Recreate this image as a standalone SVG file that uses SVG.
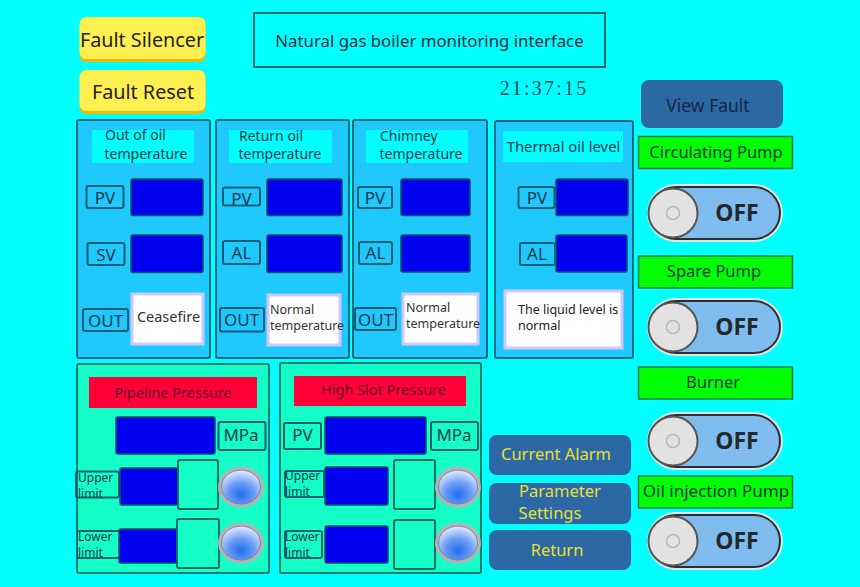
<svg xmlns="http://www.w3.org/2000/svg" width="860" height="587" viewBox="0 0 860 587">
<style>
text{font-family:"Noto Sans","Open Sans","Liberation Sans",sans-serif;fill:#0b3a4a;text-anchor:middle}
.panel{fill:#1fc8ff;stroke:#0b6d80;stroke-width:2}
.gpanel{fill:#14ffc8;stroke:#0b7d70;stroke-width:2}
.val{fill:#0000f0;stroke:#0b5560;stroke-width:1.5}
.lab{fill:none;stroke:#0b5f70;stroke-width:2}
.glab{fill:#14ffc8;stroke:#0b6d60;stroke-width:2}
.head{fill:#00ffff}
.wht{fill:#fff;stroke:#cfc8ff;stroke-width:3}
.red{fill:#ff0038}
.grn{fill:#00ff00;stroke:#0b7d50;stroke-width:1.5}
.nav{fill:#2c67a6}
.yel{fill:#fff04f}
.yels{fill:#f5b800}
.hd{font-size:14px}
.t16{font-size:17px}
.wt{font-size:12.500px;fill:#333;text-anchor:start}
.lim{font-size:12px;text-anchor:start}
.rt{font-size:14.500px;fill:#6a0a28}
.gt{font-size:16.500px;fill:#06383a}
.nt{fill:#e8e030;font-size:16.500px}
</style>
<defs>
<radialGradient id="lampG" cx="50%" cy="72%" r="65%"><stop offset="0" stop-color="#1f6cf0"/><stop offset="0.55" stop-color="#6f9ff5"/><stop offset="1" stop-color="#d0dffc"/></radialGradient>
<g id="toggle">
<rect x="-67" y="-29" width="136" height="58" rx="29" fill="#e4e4e4"/>
<rect x="-64" y="-26" width="130" height="52" rx="26" fill="#80bdee" stroke="#2a2f33" stroke-width="2"/>
<circle cx="-41" cy="0" r="24.500" fill="#e2e2e2" stroke="#555" stroke-width="2"/>
<circle cx="-41" cy="0" r="6.500" fill="none" stroke="#b8b8b8" stroke-width="1.500"/>
<text x="23" y="8" style="font-size:23px;font-weight:700;fill:#22282c">OFF</text>
</g>
<g id="lamp">
<ellipse cx="0" cy="0" rx="23" ry="20.500" fill="#b4b4b4"/>
<ellipse cx="0" cy="0" rx="19.500" ry="17" fill="url(#lampG)" stroke="#6a7a90" stroke-width="0.800"/>
</g>
</defs>
<rect width="860" height="587" fill="#00ffff"/>

<g id="fault-silencer"><rect class="yels" x="79.500" y="18" width="126" height="44" rx="7"/><rect class="yel" x="79.500" y="17" width="126" height="42" rx="7"/><text x="142" y="47" style="font-size:19.800px;fill:#222">Fault Silencer</text></g>
<g id="fault-reset"><rect class="yels" x="79.500" y="71" width="126" height="43" rx="7"/><rect class="yel" x="79.500" y="70" width="126" height="41" rx="7"/><text x="143" y="99" style="font-size:19.800px;fill:#222">Fault Reset</text></g>
<g id="title"><rect x="254" y="13" width="351" height="54" fill="none" stroke="#0b6d70" stroke-width="2"/><text x="429.500" y="47" style="font-size:16.800px;fill:#10303a">Natural gas boiler monitoring interface</text></g>
<g id="clock"><text x="544" y="95" style="font-family:'Liberation Serif',serif;font-size:20px;letter-spacing:2.200px;fill:#1d4a55">21:37:15</text></g>
<g id="view-fault"><rect class="nav" x="641" y="80" width="142" height="48" rx="8"/><text x="708" y="112" style="font-size:17.500px;fill:#14283f">View Fault</text></g>

<g id="out-of-oil">
<rect class="panel" x="77" y="120" width="133" height="238" rx="2"/>
<rect class="head" x="92" y="130" width="102" height="33"/>
<text x="105" y="140" class="hd" style="text-anchor:start">Out of oil</text><text x="146" y="159" class="hd">temperature</text>
<rect class="val" x="131" y="179" width="72" height="36.500" rx="2"/><rect class="val" x="131" y="235" width="72" height="37.500" rx="2"/>
<rect class="lab" x="86.500" y="186" width="37" height="22" rx="2"/><text x="105" y="204" class="t16">PV</text>
<rect class="lab" x="87.500" y="243" width="37" height="22" rx="2"/><text x="106" y="261" class="t16">SV</text>
<rect class="lab" x="83" y="309" width="45" height="22" rx="2"/><text x="105.500" y="327" class="t16">OUT</text>
<rect class="wht" x="132" y="294" width="71" height="50"/><text x="168.500" y="322" style="font-size:14.500px;fill:#333">Ceasefire</text>
</g>
<g id="return-oil">
<rect class="panel" x="216" y="120" width="133" height="238" rx="2"/>
<rect class="head" x="229" y="130" width="103" height="33"/>
<text x="239" y="141" class="hd" style="text-anchor:start">Return oil</text><text x="280" y="159" class="hd">temperature</text>
<rect class="val" x="267" y="179" width="75" height="36.500" rx="2"/><rect class="val" x="267" y="235" width="75" height="37.500" rx="2"/>
<rect class="lab" x="223" y="187.500" width="37" height="18" rx="2"/><text x="241.500" y="205" class="t16">PV</text>
<rect class="lab" x="223" y="241" width="37" height="23" rx="2"/><text x="241.500" y="259" class="t16">AL</text>
<rect class="lab" x="220" y="308" width="44" height="23.500" rx="2"/><text x="241.500" y="326" class="t16">OUT</text>
<rect class="wht" x="268" y="295" width="72" height="50"/><text x="270" y="314" class="wt">Normal</text><text x="270" y="330" class="wt">temperature</text>
</g>
<g id="chimney">
<rect class="panel" x="353" y="120" width="134" height="238" rx="2"/>
<rect class="head" x="366" y="130" width="102" height="33"/>
<text x="380" y="141" class="hd" style="text-anchor:start">Chimney</text><text x="421" y="159" class="hd">temperature</text>
<rect class="val" x="401" y="179" width="69" height="36.500" rx="2"/><rect class="val" x="401" y="235" width="69" height="37" rx="2"/>
<rect class="lab" x="358" y="187" width="34" height="21" rx="2"/><text x="375" y="204" class="t16">PV</text>
<rect class="lab" x="359" y="242" width="33" height="22" rx="2"/><text x="375.500" y="259" class="t16">AL</text>
<rect class="lab" x="355" y="308" width="41" height="22" rx="2"/><text x="375.500" y="326" class="t16">OUT</text>
<rect class="wht" x="403" y="294" width="75" height="50"/><text x="406" y="312" class="wt">Normal</text><text x="406" y="328" class="wt">temperature</text>
</g>
<g id="thermal-oil-level">
<rect class="panel" x="495" y="121" width="138" height="237" rx="2"/>
<rect class="head" x="503" y="131" width="120" height="31"/>
<text x="563.500" y="152" style="font-size:14.800px">Thermal oil level</text>
<rect class="val" x="556" y="179" width="72" height="36.500" rx="2"/><rect class="val" x="556" y="235" width="71" height="37" rx="2"/>
<rect class="lab" x="518.500" y="187" width="36" height="21" rx="2"/><text x="537" y="204" class="t16">PV</text>
<rect class="lab" x="520" y="243" width="35" height="22" rx="2"/><text x="537" y="260" class="t16">AL</text>
<rect class="wht" x="505" y="291" width="117" height="57"/><text x="518" y="314" class="wt" style="fill:#222">The liquid level is</text><text x="518" y="330" class="wt" style="fill:#222">normal</text>
</g>

<g id="pipeline-pressure">
<rect class="gpanel" x="77" y="364" width="192" height="209" rx="2"/>
<rect class="red" x="89" y="377" width="168" height="31"/>
<text x="173" y="398" class="rt">Pipeline Pressure</text>
<rect class="val" x="116" y="417" width="99" height="37" rx="2"/>
<rect class="lab" x="218.500" y="422" width="47" height="28" rx="2"/><text x="241" y="441" class="t16">MPa</text>
<rect class="lab" x="76" y="471.500" width="43" height="26" rx="2"/><text x="78" y="482" class="lim">Upper</text><text x="78" y="498" class="lim">limit</text>
<rect class="val" x="120" y="468" width="58" height="37" rx="2"/>
<rect class="glab" x="178" y="460" width="40" height="49" rx="2"/>
<use href="#lamp" x="241" y="487"/>
<rect class="lab" x="77" y="531" width="43" height="27" rx="2"/><text x="78" y="541" class="lim">Lower</text><text x="78" y="557" class="lim">limit</text>
<rect class="val" x="119" y="529" width="58" height="34" rx="2"/>
<rect class="glab" x="177" y="519" width="42" height="49" rx="2"/>
<use href="#lamp" x="241" y="543"/>
</g>
<g id="high-slot-pressure">
<rect class="gpanel" x="280" y="363" width="201" height="210" rx="2"/>
<rect class="red" x="294" y="376" width="172" height="30"/>
<text x="383.500" y="395" class="rt">High Slot Pressure</text>
<rect class="lab" x="284" y="423" width="37" height="26" rx="2"/><text x="302.500" y="441" class="t16">PV</text>
<rect class="val" x="325" y="417" width="101" height="37" rx="2"/>
<rect class="lab" x="431" y="422" width="47" height="28" rx="2"/><text x="454" y="441" class="t16">MPa</text>
<rect class="lab" x="285" y="471" width="39" height="26" rx="2"/><text x="285" y="480" class="lim">Upper</text><text x="285" y="496" class="lim">limit</text>
<rect class="val" x="325" y="467" width="63" height="38" rx="2"/>
<rect class="glab" x="394" y="460" width="41" height="49" rx="2"/>
<use href="#lamp" x="458" y="487"/>
<rect class="lab" x="285" y="531" width="37" height="27" rx="2"/><text x="285" y="541" class="lim">Lower</text><text x="285" y="557" class="lim">limit</text>
<rect class="val" x="325" y="526" width="63" height="37" rx="2"/>
<rect class="glab" x="394" y="520" width="41" height="49" rx="2"/>
<use href="#lamp" x="458" y="543"/>
</g>

<g id="current-alarm"><rect class="nav" x="489" y="435" width="142" height="40" rx="8"/><text x="556" y="460" class="nt">Current Alarm</text></g>
<g id="parameter-settings"><rect class="nav" x="489" y="483" width="142" height="41" rx="8"/><text x="560" y="497" class="nt">Parameter</text><text x="550" y="519" class="nt">Settings</text></g>
<g id="return"><rect class="nav" x="489" y="530" width="142" height="40" rx="8"/><text x="557" y="556" class="nt">Return</text></g>

<g id="circulating-pump"><rect class="grn" x="638.500" y="136.500" width="154" height="32"/><text x="716" y="158" class="gt">Circulating Pump</text></g>
<g id="toggle-1"><use href="#toggle" x="714" y="213"/></g>
<g id="spare-pump"><rect class="grn" x="638.500" y="256" width="154" height="32"/><text x="714" y="277" class="gt">Spare Pump</text></g>
<g id="toggle-2"><use href="#toggle" x="714" y="327"/></g>
<g id="burner"><rect class="grn" x="638.500" y="367" width="154" height="32"/><text x="713" y="388" class="gt">Burner</text></g>
<g id="toggle-3"><use href="#toggle" x="714" y="441"/></g>
<g id="oil-injection-pump"><rect class="grn" x="638.500" y="476" width="154" height="32"/><text x="716" y="497" style="font-size:17px;fill:#06383a">Oil injection Pump</text></g>
<g id="toggle-4"><use href="#toggle" x="714" y="541"/></g>
</svg>
